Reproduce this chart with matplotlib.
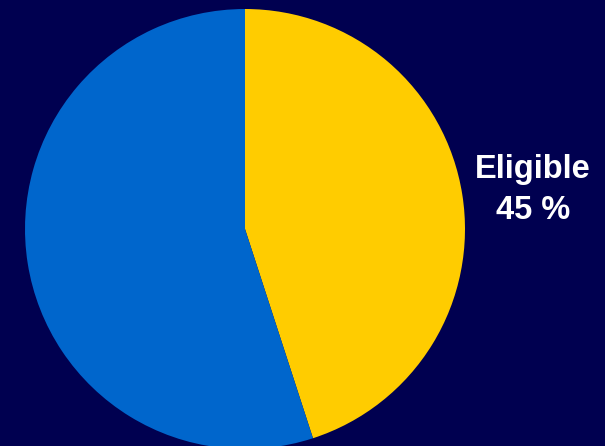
import matplotlib
matplotlib.use("Agg")
import matplotlib.pyplot as plt

labels = ["Eligible", "Not eligible"]
values = [45, 55]
colors = ["#FFCC00", "#0066CC"]

fig = plt.figure(figsize=(6.05, 4.46), dpi=100)
fig.patch.set_facecolor("#000050")
ax = fig.add_axes([0, 0, 1, 1])
ax.set_facecolor("#000050")

ax.pie(values, colors=colors, startangle=90, counterclock=False,
       center=(245, 446 - 229), radius=220, frame=True,
       wedgeprops=dict(linewidth=0))
ax.set_xlim(0, 605)
ax.set_ylim(0, 446)
ax.set_aspect("equal")
ax.axis("off")

ax.text(533, 446 - 190, f"{labels[0]}\n{values[0]} %", color="white",
        fontsize=23.5, fontweight="bold", family="Liberation Sans",
        ha="center", va="center", linespacing=1.42)

fig.savefig("out.png", dpi=100, facecolor=fig.get_facecolor())
